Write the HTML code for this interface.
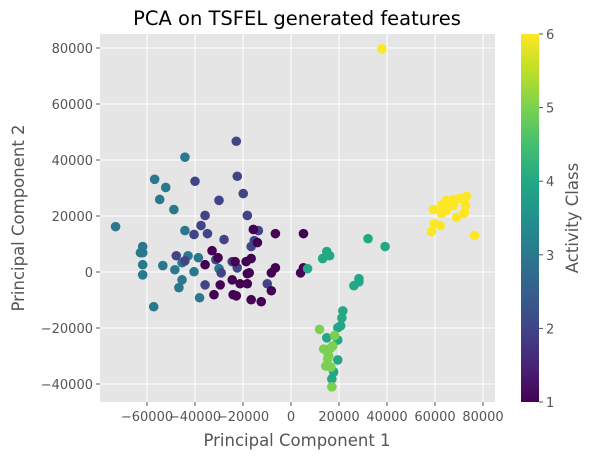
<!DOCTYPE html>
<html><head><meta charset="utf-8"><style>
body{margin:0;background:#fff;}
svg{display:block;font-family:"DejaVu Sans","Liberation Sans",sans-serif;}
</style></head><body>
<svg id="chart" width="590" height="460" viewBox="0 0 590 460" xmlns="http://www.w3.org/2000/svg">
<defs><linearGradient id="vir" x1="0" y1="1" x2="0" y2="0">
<stop offset="0" stop-color="#440154"/><stop offset="0.1" stop-color="#482475"/><stop offset="0.2" stop-color="#414487"/><stop offset="0.3" stop-color="#355f8d"/><stop offset="0.4" stop-color="#2a788e"/><stop offset="0.5" stop-color="#21918c"/><stop offset="0.6" stop-color="#22a884"/><stop offset="0.7" stop-color="#44bf70"/><stop offset="0.8" stop-color="#7ad151"/><stop offset="0.9" stop-color="#bddf26"/><stop offset="1" stop-color="#fde725"/>
</linearGradient></defs>
<rect x="100" y="34" width="395" height="368" fill="#e5e5e5"/>
<g id="grid"></g><g id="pts"></g><g id="axes"></g>
<text x="297" y="25" font-size="19.5" text-anchor="middle" fill="#000">PCA on TSFEL generated features</text>
<text x="297" y="446" font-size="16.5" text-anchor="middle" fill="#555">Principal Component 1</text>
<text x="24" y="218" font-size="16.5" text-anchor="middle" fill="#555" transform="rotate(-90 24 218)">Principal Component 2</text>
<rect x="521" y="34" width="18" height="368" fill="url(#vir)"/>
<g id="cbar"></g>
<text x="578" y="218" font-size="16.5" text-anchor="middle" fill="#555" transform="rotate(-90 578 218)">Activity Class</text>
</svg>
<script>
const xTicks=[-60000,-40000,-20000,0,20000,40000,60000,80000];
const yTicks=[-40000,-20000,0,20000,40000,60000,80000];
const cTicks=[1,2,3,4,5,6];
const pcX=[-44.2,-56.8,-52.2,-54.7,-48.8,-73.1,-44.2,-61.8,-62.7,-61.8,-61.8,-61.8,-53.4,-48.4,-45.4,-46.7,-57.2,-38.1,-42.9,-38.6,-45.4,-40.4,-30.0,
-22.8,-22.4,-40.0,-19.9,-30.0,-35.8,-18.2,-37.5,-40.4,-34.8,-27.9,-13.6,-15.3,-16.6,-47.8,-44.2,-31.3,-24.5,-22.4,-29.1,-35.8,-9.9,
-15.7,-6.5,-14.0,-32.9,-30.4,-35.8,-23.3,-18.7,-16.6,-18.2,-17.4,-6.5,-8.2,-24.5,-21.2,-18.2,-29.5,-32.1,-24.1,-22.8,-16.6,-12.4,-8.2,5.2,5.2,4.0,
32.1,39.2,14.9,16.1,13.2,6.9,28.3,28.3,26.2,21.6,21.2,20.7,19.5,14.9,19.5,19.5,17.8,17.0,
11.9,18.2,13.6,16.6,15.7,15.3,14.5,17.0,17.4,15.3,16.6,
37.9,59.3,59.7,62.2,58.5,76.5,69.0,71.9,72.7,64.7,62.7,64.7,67.7,70.2,73.1,67.7,64.3,62.7,72.3];
const pcY=[41.0,33.1,30.2,25.9,22.3,16.2,14.8,9.1,6.9,6.9,2.6,-1.0,2.3,0.8,-2.8,-5.6,-12.4,-9.2,5.8,5.1,3.3,0.1,1.2,
46.7,34.2,32.4,28.0,25.6,20.2,20.2,16.6,13.4,13.7,11.6,14.8,11.2,9.1,5.8,4.0,4.4,3.7,1.5,-0.3,-4.6,-4.2,
15.2,13.7,10.5,7.6,5.1,2.6,3.7,3.7,4.8,-0.6,-0.3,1.5,-0.3,-2.8,-4.2,-4.2,-4.6,-8.1,-8.1,-8.5,-9.9,-10.6,-6.7,13.7,1.5,-0.3,
11.9,9.1,7.3,5.8,4.8,1.2,-2.4,-3.5,-4.9,-13.9,-16.4,-19.2,-19.9,-23.5,-24.3,-31.4,-35.7,-38.2,
-20.5,-22.7,-27.5,-27.1,-30.0,-31.1,-33.6,-41.0,-26.4,-28.9,-34.0,
79.7,22.3,17.3,16.6,14.4,13.0,19.5,20.9,23.8,22.0,23.8,25.6,25.9,26.3,27.0,23.8,23.0,20.9,21.3];
const cls=[3,3,3,3,3,3,3,3,3,3,3,3,3,3,3,3,3,3,3,3,3,3,3,
2,2,2,2,2,2,2,2,2,2,2,2,2,2,2,2,2,2,2,2,2,2,
1,1,1,1,1,1,1,1,1,1,1,1,1,1,1,1,1,1,1,1,1,1,1,1,1,1,
4,4,4,4,4,4,4,4,4,4,4,4,4,4,4,4,4,4,
5,5,5,5,5,5,5,5,5,5,5,
6,6,6,6,6,6,6,6,6,6,6,6,6,6,6,6,6,6,6];
const NS='http://www.w3.org/2000/svg';
const xs=v=>291+v*0.00240;
const ys=v=>272-v*0.00280;
const cs=c=>402-(c-1)/5*368;
const cmap={1:'#440154',2:'#414487',3:'#2a788e',4:'#22a884',5:'#7ad151',6:'#fde725'};
const fmt=v=>v<0?'\u2212'+(-v):String(v);
function mk(t,a,p){const e=document.createElementNS(NS,t);for(const k in a)e.setAttribute(k,a[k]);p.appendChild(e);return e;}
const grid=document.getElementById('grid'),axes=document.getElementById('axes'),pts=document.getElementById('pts'),cb=document.getElementById('cbar');
xTicks.forEach(v=>{const x=xs(v);
 const g=mk('line',{x1:x,x2:x,y1:34,y2:402,stroke:'#fff','stroke-width':1},grid);
 
 
 const tk=mk('line',{x1:x,x2:x,y1:402,y2:406,stroke:'#555'},axes);
 
 
 const t=mk('text',{x:x,y:421,'font-size':13,'text-anchor':'middle',fill:'#555'},axes);t.textContent=fmt(v);
 
 
});
yTicks.forEach(v=>{const y=ys(v);
 const g=mk('line',{x1:100,x2:495,y1:y,y2:y,stroke:'#fff','stroke-width':1},grid);
 
 
 const tk=mk('line',{x1:96,x2:100,y1:y,y2:y,stroke:'#555'},axes);
 
 
 const t=mk('text',{x:93,y:y+5,'font-size':13,'text-anchor':'end',fill:'#555'},axes);t.textContent=fmt(v);
 
 
});
pcX.forEach((v,i)=>{
 const c=mk('circle',{cx:xs(v*1000),cy:ys(pcY[i]*1000),r:4.8,fill:cmap[cls[i]]},pts);
 
 
});
cTicks.forEach(v=>{const y=cs(v);
 const tk=mk('line',{x1:539,x2:543,y1:y,y2:y,stroke:'#555'},cb);
 
 
 const t=mk('text',{x:546,y:y+5,'font-size':13,fill:'#555'},cb);t.textContent=v;
 
 
});
</script>
</body></html>
